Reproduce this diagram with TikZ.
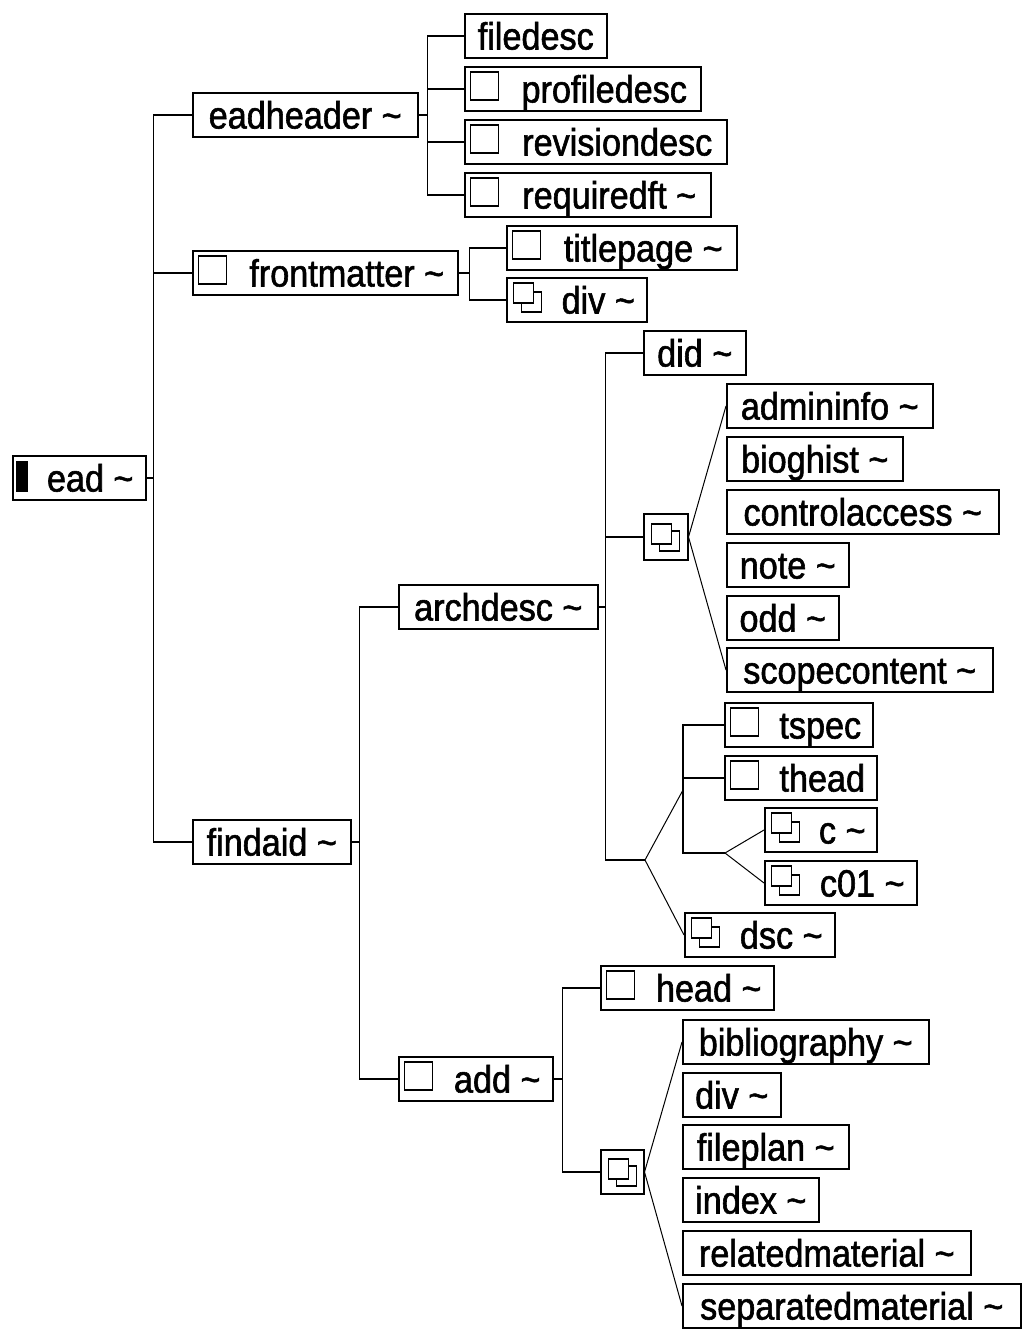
\documentclass[tikz,border=0pt]{standalone}
\usepackage{fontspec}
\setmainfont{Liberation Sans}[FakeStretch=0.9,FakeBold=1.5]
\newcommand\tld{\textasciitilde}
\tikzset{
  elem/.style={draw, line width=1.5pt, anchor=west, minimum height=44pt, inner xsep=4pt, inner ysep=0pt,
    text height=32pt, text depth=5pt, font=\fontsize{38}{42}\selectfont},
  sq/.style={elem, execute at begin node={\hspace*{43pt}},
    path picture={\draw[line width=1.2pt] ([xshift=6pt,yshift=-5pt]path picture bounding box.north west) rectangle ++(28pt,-28pt);}},
  dsq/.style={elem, execute at begin node={\hspace*{43pt}},
    path picture={\draw[line width=1.2pt] ([xshift=15pt,yshift=-14pt]path picture bounding box.north west) rectangle ++(20pt,-20pt);
      \draw[line width=1.2pt, fill=white] ([xshift=7pt,yshift=-5pt]path picture bounding box.north west) rectangle ++(20pt,-20pt);}},
  choice/.style={elem, minimum width=44pt, minimum height=46pt,
    path picture={\draw[line width=1.2pt] ([xshift=-6pt,yshift=6pt]path picture bounding box.center) rectangle ++(20pt,-20pt);
      \draw[line width=1.2pt, fill=white] ([xshift=-14pt,yshift=13pt]path picture bounding box.center) rectangle ++(20pt,-20pt);}},
  link/.style={line width=1.5pt},
  fan/.style={line width=1pt}
}
\begin{document}
\begin{tikzpicture}[x=1pt,y=-1pt]
  \useasboundingbox (0,0) rectangle (1023,1329);

  \node[elem, minimum width=133pt, execute at begin node={\hspace*{22pt}},
    path picture={\fill ([xshift=3pt,yshift=-5pt]path picture bounding box.north west) rectangle ++(12pt,-31pt);}]
    (ead) at (12,478) {ead \tld};

  \node[elem, minimum width=225pt] (eadheader) at (192,115) {eadheader \tld};
  \node[sq, minimum width=265pt] (frontmatter) at (192,273) {frontmatter \tld};
  \node[elem, minimum width=158pt] (findaid) at (192,842) {findaid \tld};

  \node[elem, minimum width=142pt] (filedesc) at (464,36) {filedesc};
  \node[sq, minimum width=236pt] (profiledesc) at (464,89) {profiledesc};
  \node[sq, minimum width=262pt] (revisiondesc) at (464,142) {revisiondesc};
  \node[sq, minimum width=246pt] (requiredft) at (464,195) {requiredft \tld};

  \node[sq, minimum width=230pt] (titlepage) at (506,248) {titlepage \tld};
  \node[dsq, minimum width=140pt] (frontdiv) at (506,300) {div \tld};

  \node[elem, minimum width=199pt] (archdesc) at (398,607) {archdesc \tld};
  \node[sq, minimum width=154pt] (add) at (398,1079) {add \tld};

  \node[elem, minimum width=102pt] (did) at (643,353) {did \tld};
  \node[choice] (archchoice) at (643,537) {};
  \node[elem, minimum width=206pt] (admininfo) at (726,406) {admininfo \tld};
  \node[elem, minimum width=176pt] (bioghist) at (726,459) {bioghist \tld};
  \node[elem, minimum width=272pt] (controlaccess) at (726,512) {controlaccess \tld};
  \node[elem, minimum width=122pt] (note) at (726,565) {note \tld};
  \node[elem, minimum width=112pt] (odd) at (726,618) {odd \tld};
  \node[elem, minimum width=266pt] (scopecontent) at (726,670) {scopecontent \tld};

  \node[sq, minimum width=148pt] (tspec) at (724,725) {tspec};
  \node[sq, minimum width=152pt] (thead) at (724,778) {thead};
  \node[dsq, minimum width=112pt] (c) at (764,830) {c \tld};
  \node[dsq, minimum width=152pt] (c01) at (764,883) {c01 \tld};
  \node[dsq, minimum width=150pt] (dsc) at (684,935) {dsc \tld};

  \node[sq, minimum width=173pt] (head) at (600,988) {head \tld};
  \node[choice, minimum width=43pt, minimum height=44pt] (addchoice) at (600,1172) {};
  \node[elem, minimum width=246pt] (bibliography) at (682,1042) {bibliography \tld};
  \node[elem, minimum width=98pt] (adddiv) at (682,1095) {div \tld};
  \node[elem, minimum width=166pt] (fileplan) at (682,1147) {fileplan \tld};
  \node[elem, minimum width=136pt] (index) at (682,1200) {index \tld};
  \node[elem, minimum width=288pt] (relatedmaterial) at (682,1253) {relatedmaterial \tld};
  \node[elem, minimum width=338pt] (separatedmaterial) at (682,1306) {separatedmaterial \tld};

  \coordinate (eadbus) at ([xshift=7pt]ead.east);
  \coordinate (headbus) at ([xshift=9pt]eadheader.east);
  \coordinate (frontbus) at ([xshift=11pt]frontmatter.east);
  \coordinate (findbus) at ([xshift=8pt]findaid.east);
  \coordinate (archbus) at ([xshift=7pt]archdesc.east);
  \coordinate (addbus) at ([xshift=9pt]add.east);
  \coordinate (seqfork) at (645,860);
  \coordinate (seqknot) at (683,790);
  \coordinate (cfork) at (725,853);

  \draw[link] (ead.east) -- (eadbus);
  \foreach \n in {eadheader,frontmatter,findaid} \draw[link] (eadbus) |- (\n.west);
  \draw[link] (eadheader.east) -- (headbus);
  \foreach \n in {filedesc,profiledesc,revisiondesc,requiredft} \draw[link] (headbus) |- (\n.west);
  \draw[link] (frontmatter.east) -- (frontbus);
  \foreach \n in {titlepage,frontdiv} \draw[link] (frontbus) |- (\n.west);
  \draw[link] (findaid.east) -- (findbus);
  \foreach \n in {archdesc,add} \draw[link] (findbus) |- (\n.west);
  \draw[link] (archdesc.east) -- (archbus);
  \foreach \n in {did,archchoice,seqfork} \draw[link] (archbus) |- (\n.west);
  \draw[link] (add.east) -- (addbus);
  \foreach \n in {head,addchoice} \draw[link] (addbus) |- (\n.west);

  \draw[fan] (admininfo.west) -- (archchoice.east) -- (scopecontent.west);
  \draw[fan] (seqknot) -- (seqfork) -- (dsc.west);
  \foreach \n in {tspec,thead,cfork} \draw[link] (seqknot) |- (\n.west);
  \draw[fan] (c.west) -- (cfork) -- (c01.west);
  \draw[fan] (bibliography.west) -- (addchoice.east) -- (separatedmaterial.west);
\end{tikzpicture}
\end{document}
